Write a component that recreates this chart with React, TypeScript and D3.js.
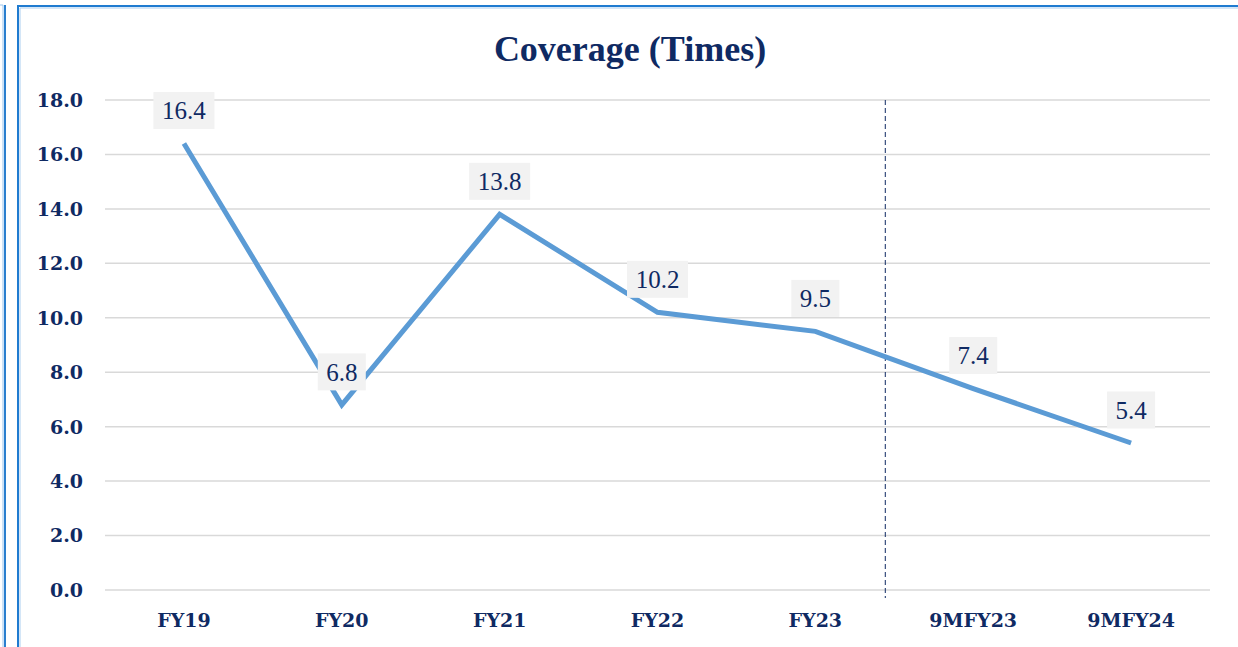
import React from "react";
import * as d3 from "d3";

const categories = ["FY19", "FY20", "FY21", "FY22", "FY23", "9MFY23", "9MFY24"];
const coverage = [16.4, 6.8, 13.8, 10.2, 9.5, 7.4, 5.4];
const yTicks = [0, 2, 4, 6, 8, 10, 12, 14, 16, 18];
const chartTitle = "Coverage (Times)";

const W = 1238;
const H = 647;
const NAVY = "#0f2a63";
const SERIF = "'Liberation Serif', 'DejaVu Serif', serif";
const WIDE_SERIF = "'DejaVu Serif', 'Liberation Serif', serif";

export default function App() {
  const margin = { left: 105, right: 28, top: 100, bottom: 57 };
  const x = d3
    .scaleBand<string>()
    .domain(categories)
    .range([margin.left, W - margin.right]);
  const y = d3.scaleLinear().domain([0, 18]).range([H - margin.bottom, margin.top]);

  const pts: [number, number][] = coverage.map((v, i) => [
    (x(categories[i]) as number) + x.bandwidth() / 2,
    y(v),
  ]);
  const line = d3.line()(pts) as string;

  // dashed separator between full years and nine-month periods
  const sepX = (x("9MFY23") as number) - 9;

  return (
    <svg
      width={W}
      height={H}
      style={{ position: "fixed", left: 0, top: 0, background: "#fff" }}
    >
      {/* panel frames */}
      <path d="M5,647 V5" stroke="#2a7fcf" strokeWidth={2} fill="none" />
      <path d="M3,647 V5 H0" stroke="#9cc6ee" strokeWidth={1} fill="none" />
      <path d="M18,647 V6 H1238" stroke="#1f7bd0" strokeWidth={2} fill="none" />
      <path d="M20,647 V8 H1238" stroke="#a9cdf0" strokeWidth={1} fill="none" />

      <text
        x={630}
        y={61}
        textAnchor="middle"
        fontFamily={SERIF}
        fontWeight="bold"
        fontSize={36}
        fill={NAVY}
      >
        {chartTitle}
      </text>

      {yTicks.map((t) => (
        <g key={t}>
          <line
            x1={margin.left}
            x2={W - margin.right}
            y1={y(t)}
            y2={y(t)}
            stroke="#d9d9d9"
            strokeWidth={1.5}
          />
          <text
            x={83}
            y={y(t)}
            dy="0.36em"
            textAnchor="end"
            fontFamily={WIDE_SERIF}
            fontWeight="bold"
            fontSize={19}
            fill={NAVY}
          >
            {t.toFixed(1)}
          </text>
        </g>
      ))}

      {categories.map((c) => (
        <text
          key={c}
          x={(x(c) as number) + x.bandwidth() / 2}
          y={y(0) + 30}
          dy="0.36em"
          textAnchor="middle"
          fontFamily={WIDE_SERIF}
          fontWeight="bold"
          fontSize={19}
          fill={NAVY}
        >
          {c}
        </text>
      ))}

      <line
        x1={sepX}
        x2={sepX}
        y1={y(18)}
        y2={y(0) + 8}
        stroke={NAVY}
        strokeWidth={1}
        strokeDasharray="5,3"
      />

      <path
        d={line}
        fill="none"
        stroke="#5b9bd5"
        strokeWidth={5}
        strokeLinejoin="miter"
      />

      {coverage.map((v, i) => {
        const [px, py] = pts[i];
        const label = v.toFixed(1);
        const bw = label.length > 3 ? 61 : 48;
        const bh = 37;
        const cy = py - 33;
        return (
          <g key={i}>
            <rect x={px - bw / 2} y={cy - bh / 2} width={bw} height={bh} fill="#f2f2f2" />
            <text
              x={px}
              y={cy}
              dy="0.35em"
              textAnchor="middle"
              fontFamily={SERIF}
              fontSize={25}
              fill={NAVY}
            >
              {label}
            </text>
          </g>
        );
      })}
    </svg>
  );
}
